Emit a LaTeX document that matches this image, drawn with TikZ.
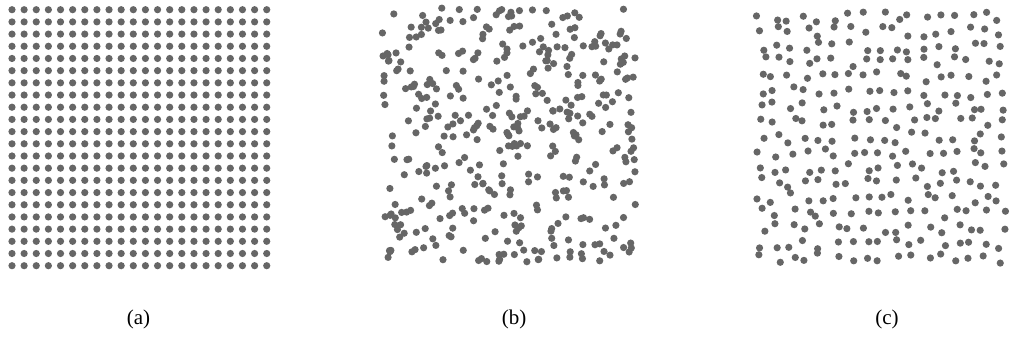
\documentclass[tikz,border=0pt]{standalone}
\usepackage{fontspec}
\setmainfont{Liberation Serif}
\definecolor{dotgray}{HTML}{666666}
\tikzset{dot/.style={fill=dotgray,draw=none},
  caption/.style={font=\fontsize{21}{24}\selectfont,inner sep=0pt}}
\begin{document}
\begin{tikzpicture}[x=1pt,y=-1pt]
\useasboundingbox (0,0) rectangle (1011,338);
% (a) regular grid
\foreach \i in {0,...,21}{
  \foreach \j in {0,...,21}{
    \fill[dot] ({12+12.13*\i},{9.7+12.19*\j}) circle[radius=3.6];
  }
}
% (b) uniform random points
\pgfmathsetseed{271828}
\foreach \k in {1,...,400}{
  \pgfmathsetmacro\px{382+255*rnd}
  \pgfmathsetmacro\py{8+256*rnd}
  \fill[dot] (\px,\py) circle[radius=3.6];
}
% (c) jittered (blue-noise-like) points
\pgfmathsetseed{314159}
\foreach \i in {0,...,16}{
  \foreach \j in {0,...,16}{
    \pgfmathsetmacro\px{753+(\i+0.5+0.36*rand)*255/17}
    \pgfmathsetmacro\py{9+(\j+0.5+0.36*rand)*257/17}
    \fill[dot] (\px,\py) circle[radius=3.6];
  }
}
\node[caption] (capa) at (138.5,319) {(a)};
\node[caption] (capb) at (514,319) {(b)};
\node[caption] (capc) at (887,319) {(c)};
\end{tikzpicture}
\end{document}
